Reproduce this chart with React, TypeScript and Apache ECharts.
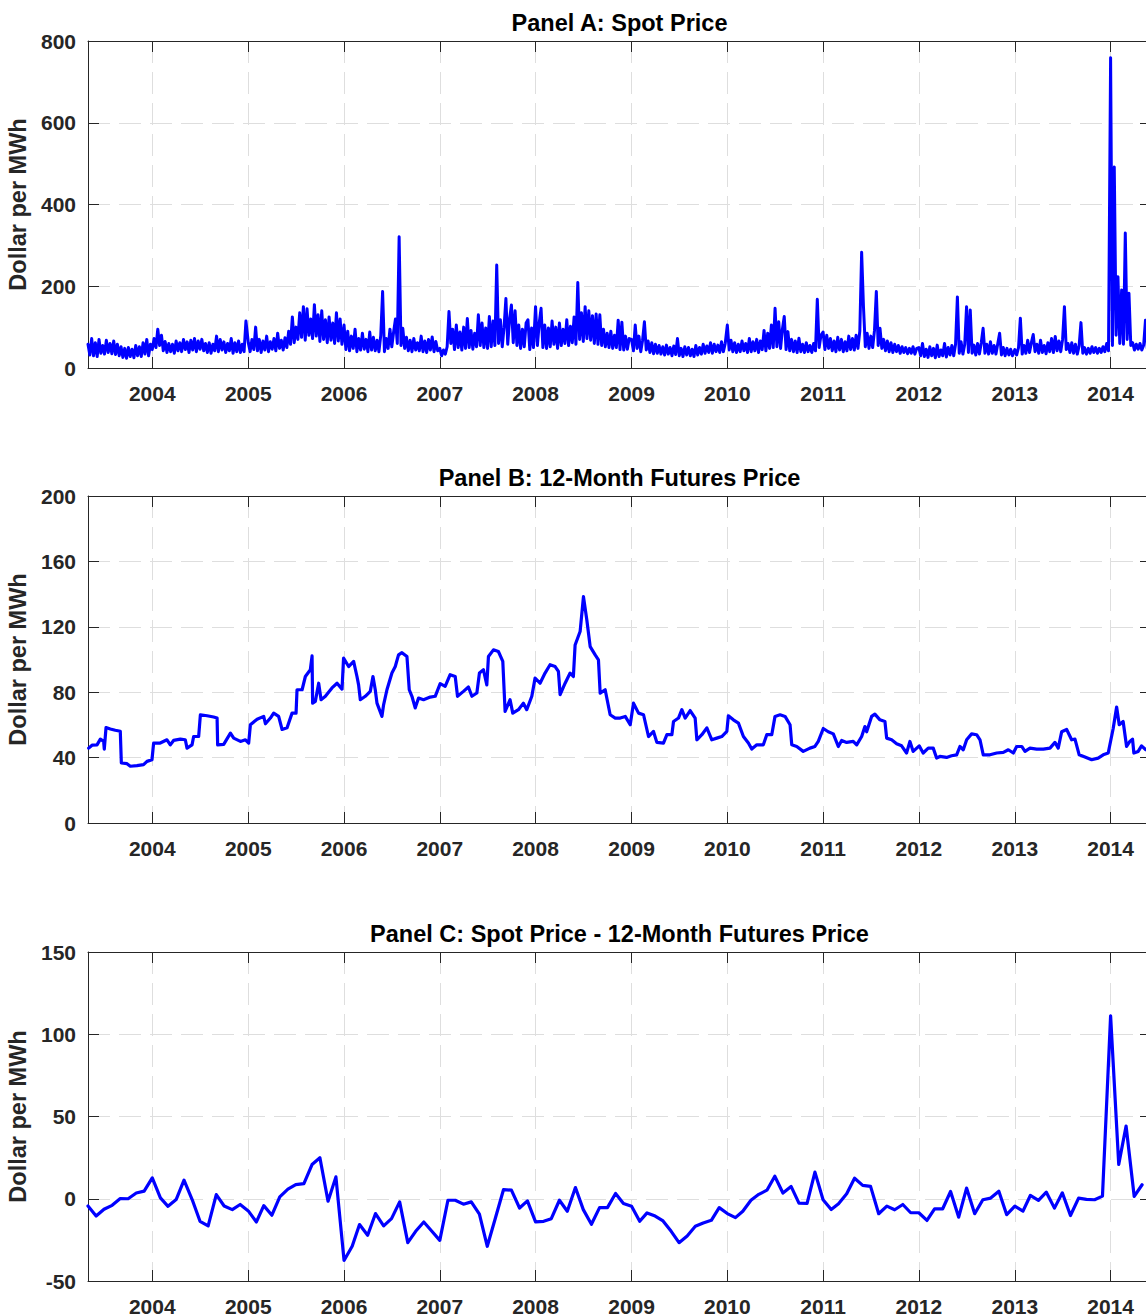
import React, { useEffect, useRef } from 'react';
import * as echarts from 'echarts';

const FONT = '"Liberation Sans", Arial, Helvetica, sans-serif';
const DAY = 86400000;
const AXIS_COLOR = '#262626';
const GRID_COLOR = '#dedede';
const LINE_COLOR = '#0000ff';

// Weekly spot prices ($/MWh); 2003 starts on 1 May, other years on 1 January.
const SPOT_2003 = [58, 32, 72, 30, 62, 28, 70, 36, 55, 34, 68, 38, 60, 35, 66, 33, 58, 30, 52, 26, 48, 24, 50, 28, 46, 25, 55, 30, 52, 28, 62, 34, 70, 30, 58];
const SPOT_2004 = [45, 72, 50, 95, 55, 80, 42, 65, 38, 60, 40, 58, 36, 66, 42, 62, 40, 70, 45, 64, 38, 68, 44, 72, 40, 66, 46, 70, 42, 60, 38, 62, 36, 58, 42, 78, 40, 70, 44, 64, 38, 60, 42, 72, 36, 62, 40, 66, 38, 58, 40, 115];
const SPOT_2005 = [62, 40, 70, 45, 100, 42, 70, 38, 66, 44, 78, 40, 64, 46, 72, 42, 85, 48, 68, 44, 74, 50, 90, 58, 125, 62, 100, 70, 135, 75, 150, 68, 145, 80, 120, 72, 155, 78, 130, 65, 140, 70, 118, 62, 125, 68, 110, 60, 135, 66, 120, 58];
const SPOT_2006 = [105, 45, 90, 42, 78, 48, 95, 40, 72, 44, 85, 46, 70, 40, 88, 44, 75, 42, 68, 40, 80, 187, 40, 72, 48, 95, 52, 88, 120, 60, 321, 55, 97, 48, 75, 42, 68, 40, 72, 44, 62, 42, 78, 40, 66, 38, 70, 44, 76, 40, 65, 42];
const SPOT_2007 = [48, 30, 44, 34, 52, 138, 60, 95, 45, 105, 50, 88, 44, 100, 48, 121, 50, 92, 46, 85, 52, 130, 55, 110, 50, 98, 48, 126, 52, 115, 55, 252, 60, 118, 52, 100, 170, 58, 120, 154, 62, 140, 55, 105, 48, 95, 52, 110, 118, 45, 98, 50];
const SPOT_2008 = [150, 55, 110, 146, 50, 105, 48, 98, 52, 115, 58, 100, 48, 110, 55, 95, 60, 118, 55, 102, 62, 125, 58, 209, 70, 135, 65, 150, 72, 140, 68, 128, 60, 132, 58, 130, 55, 95, 52, 85, 50, 90, 48, 80, 50, 117, 45, 112, 44, 78, 46, 72];
const SPOT_2009 = [70, 42, 105, 48, 78, 40, 68, 113, 44, 66, 38, 62, 35, 58, 36, 55, 34, 52, 32, 56, 34, 50, 30, 54, 33, 72, 30, 48, 28, 52, 32, 50, 30, 46, 28, 55, 32, 50, 34, 58, 36, 54, 38, 62, 36, 58, 40, 56, 38, 64, 40, 60];
const SPOT_2010 = [105, 44, 68, 40, 62, 38, 58, 40, 66, 42, 60, 38, 72, 40, 64, 42, 70, 38, 66, 45, 92, 42, 85, 48, 105, 50, 146, 52, 113, 48, 95, 126, 45, 89, 42, 70, 40, 66, 38, 73, 40, 58, 38, 62, 40, 55, 38, 60, 42, 168, 50, 80];
const SPOT_2011 = [88, 45, 80, 48, 72, 42, 66, 40, 75, 44, 70, 40, 64, 42, 78, 45, 72, 44, 80, 48, 90, 283, 150, 52, 85, 48, 78, 50, 92, 187, 55, 97, 48, 70, 42, 66, 40, 62, 38, 58, 40, 55, 36, 52, 38, 50, 35, 48, 36, 52, 34, 48];
const SPOT_2012 = [50, 30, 60, 28, 46, 26, 52, 30, 48, 25, 56, 28, 44, 30, 60, 27, 50, 32, 55, 30, 58, 174, 36, 64, 34, 58, 150, 38, 142, 36, 56, 32, 60, 34, 62, 97, 36, 58, 34, 64, 36, 55, 34, 60, 85, 32, 50, 30, 48, 32, 46, 30];
const SPOT_2013 = [45, 32, 50, 122, 34, 55, 36, 68, 38, 62, 82, 40, 58, 36, 68, 38, 55, 35, 62, 40, 72, 38, 77, 42, 66, 40, 70, 150, 45, 60, 38, 62, 36, 58, 34, 54, 111, 36, 50, 34, 48, 36, 52, 38, 50, 36, 48, 38, 52, 40, 60, 42];
const SPOT_2014 = [759, 55, 492, 80, 223, 60, 191, 58, 330, 70, 183, 55, 62, 44, 58, 46, 60, 44, 56, 117, 48, 58];

const SPOT_YEARS: [number, number, number[]][] = [
  [2003, 4, SPOT_2003],
  [2004, 0, SPOT_2004],
  [2005, 0, SPOT_2005],
  [2006, 0, SPOT_2006],
  [2007, 0, SPOT_2007],
  [2008, 0, SPOT_2008],
  [2009, 0, SPOT_2009],
  [2010, 0, SPOT_2010],
  [2011, 0, SPOT_2011],
  [2012, 0, SPOT_2012],
  [2013, 0, SPOT_2013],
  [2014, 0, SPOT_2014],
];

// 12-month futures price: [decimal year, $/MWh]
const FUTURES: [number, number][] = [
  [2003.336, 45.8], [2003.371, 47.6], [2003.423, 47.8], [2003.458, 51.3], [2003.492, 49.9], [2003.499, 45.2],
  [2003.517, 58.4], [2003.562, 57.5], [2003.614, 56.7], [2003.666, 56.1], [2003.677, 36.7], [2003.736, 36.3],
  [2003.771, 34.7], [2003.840, 35.1], [2003.909, 35.7], [2003.945, 37.7], [2003.997, 38.7], [2004.014, 48.9],
  [2004.083, 48.9], [2004.153, 50.9], [2004.188, 47.8], [2004.222, 50.5], [2004.292, 51.3], [2004.344, 50.9],
  [2004.362, 45.8], [2004.414, 47.8], [2004.431, 52.9], [2004.483, 52.9], [2004.501, 66.2], [2004.571, 65.6],
  [2004.639, 64.8], [2004.675, 64.2], [2004.681, 47.8], [2004.744, 48.1], [2004.814, 55.0], [2004.848, 51.9],
  [2004.918, 49.9], [2004.970, 50.9], [2005.004, 48.9], [2005.022, 60.1], [2005.092, 63.5], [2005.161, 65.2],
  [2005.179, 60.7], [2005.231, 64.2], [2005.265, 67.2], [2005.317, 65.2], [2005.353, 57.2], [2005.405, 58.2],
  [2005.457, 67.2], [2005.499, 67.2], [2005.509, 81.5], [2005.562, 81.5], [2005.596, 89.6], [2005.648, 93.7],
  [2005.666, 102.2], [2005.672, 73.3], [2005.700, 74.4], [2005.735, 85.5], [2005.760, 75.4], [2005.805, 77.5],
  [2005.874, 82.6], [2005.927, 85.5], [2005.979, 81.9], [2005.995, 100.8], [2006.048, 95.7], [2006.100, 98.8],
  [2006.135, 89.6], [2006.152, 84.5], [2006.170, 75.4], [2006.222, 77.5], [2006.274, 80.5], [2006.302, 89.6],
  [2006.326, 81.5], [2006.344, 73.3], [2006.396, 65.2], [2006.413, 72.3], [2006.448, 81.5], [2006.500, 91.7],
  [2006.535, 95.7], [2006.569, 102.8], [2006.605, 104.2], [2006.657, 101.8], [2006.681, 81.5], [2006.709, 77.5],
  [2006.743, 70.4], [2006.778, 76.4], [2006.830, 75.4], [2006.900, 77.0], [2006.952, 77.5], [2007.004, 85.2],
  [2007.056, 83.6], [2007.108, 90.7], [2007.161, 89.6], [2007.185, 77.5], [2007.247, 80.5], [2007.299, 83.2],
  [2007.335, 77.5], [2007.387, 79.5], [2007.414, 91.7], [2007.456, 93.7], [2007.491, 84.5], [2007.508, 101.8],
  [2007.560, 105.9], [2007.612, 104.9], [2007.658, 98.8], [2007.682, 68.2], [2007.734, 75.4], [2007.762, 67.2],
  [2007.821, 69.3], [2007.873, 73.3], [2007.908, 69.3], [2007.961, 77.5], [2007.995, 88.6], [2008.047, 85.5],
  [2008.099, 91.7], [2008.151, 96.8], [2008.204, 95.7], [2008.238, 92.7], [2008.256, 78.5], [2008.308, 85.5],
  [2008.360, 91.7], [2008.394, 89.6], [2008.412, 108.9], [2008.464, 117.1], [2008.499, 138.4], [2008.534, 124.1],
  [2008.569, 107.9], [2008.621, 102.8], [2008.655, 99.8], [2008.673, 79.4], [2008.725, 81.5], [2008.777, 66.2],
  [2008.830, 64.2], [2008.882, 64.2], [2008.934, 65.2], [2008.986, 60.1], [2009.020, 73.3], [2009.073, 67.2],
  [2009.125, 66.2], [2009.177, 52.9], [2009.229, 56.0], [2009.264, 49.3], [2009.333, 48.9], [2009.369, 54.0],
  [2009.421, 54.0], [2009.438, 62.1], [2009.490, 64.2], [2009.525, 69.3], [2009.560, 64.2], [2009.612, 68.8],
  [2009.664, 64.2], [2009.682, 50.9], [2009.734, 54.0], [2009.786, 58.2], [2009.838, 50.9], [2009.890, 51.9],
  [2009.942, 52.9], [2009.995, 56.0], [2010.011, 65.6], [2010.063, 63.1], [2010.116, 61.1], [2010.168, 52.9],
  [2010.220, 48.9], [2010.255, 45.2], [2010.308, 47.8], [2010.376, 47.8], [2010.412, 54.0], [2010.464, 54.0],
  [2010.498, 65.2], [2010.551, 66.2], [2010.603, 65.2], [2010.655, 60.1], [2010.673, 47.8], [2010.725, 46.8],
  [2010.793, 43.8], [2010.863, 45.8], [2010.915, 46.8], [2010.950, 49.9], [2011.002, 57.8], [2011.054, 55.8],
  [2011.107, 54.5], [2011.159, 46.8], [2011.194, 50.5], [2011.246, 49.3], [2011.315, 49.9], [2011.351, 47.8],
  [2011.403, 52.9], [2011.437, 59.0], [2011.455, 55.8], [2011.507, 65.2], [2011.541, 66.6], [2011.594, 63.1],
  [2011.646, 62.1], [2011.664, 51.9], [2011.716, 50.9], [2011.768, 48.5], [2011.820, 47.2], [2011.872, 42.8],
  [2011.907, 49.9], [2011.941, 43.8], [2012.004, 47.2], [2012.045, 42.8], [2012.098, 45.8], [2012.150, 45.8],
  [2012.185, 39.7], [2012.219, 40.7], [2012.289, 40.1], [2012.341, 41.1], [2012.394, 41.7], [2012.428, 46.8],
  [2012.463, 44.8], [2012.498, 50.9], [2012.550, 54.5], [2012.602, 54.0], [2012.637, 50.9], [2012.671, 41.7],
  [2012.741, 41.7], [2012.811, 42.8], [2012.880, 43.2], [2012.932, 44.8], [2012.984, 42.8], [2013.019, 46.8],
  [2013.072, 46.8], [2013.106, 43.8], [2013.158, 45.8], [2013.228, 45.2], [2013.297, 45.2], [2013.367, 45.8],
  [2013.419, 49.3], [2013.453, 45.8], [2013.489, 55.8], [2013.541, 57.2], [2013.593, 50.9], [2013.628, 51.3],
  [2013.672, 41.7], [2013.732, 40.3], [2013.802, 38.7], [2013.870, 39.7], [2013.923, 41.7], [2013.975, 42.8],
  [2014.027, 57.8], [2014.063, 70.9], [2014.090, 60.1], [2014.131, 62.1], [2014.167, 46.8], [2014.201, 49.9],
  [2014.229, 51.3], [2014.243, 42.8], [2014.288, 43.8], [2014.323, 47.2], [2014.368, 44.8], [2014.410, 44.5],
];

// Monthly spot minus 12-month futures, from May 2003
const SPREAD = [
  -4.4, -10.5, -6.4, -4.0, 0.1, 0.0, 3.5, 4.6,
  12.7, 0.5, -4.6, -0.5, 11.3, -0.5, -13.7, -16.5, 2.5, -4.4, -6.6, -3.5,
  -7.4, -14.1, -4.2, -10.0, 1.1, 5.8, 8.6, 9.2, 20.8, 24.9, -1.5, 13.3,
  -37.5, -28.9, -15.7, -22.2, -9.0, -16.5, -12.1, -1.9, -26.7, -19.8, -14.1, -19.6,
  -25.3, -0.9, -0.9, -3.3, -1.9, -9.4, -28.9, -11.7, 5.6, 5.2, -5.6, -1.3,
  -14.1, -13.7, -12.1, -0.9, -7.6, 6.8, -6.6, -15.5, -5.4, -5.4, 3.2, -2.9,
  -4.6, -13.7, -8.6, -10.5, -13.5, -19.8, -26.7, -22.6, -16.7, -14.7, -13.1, -5.4,
  -9.0, -11.5, -7.6, -0.9, 2.7, 5.2, 13.7, 3.5, 7.5, -2.7, -2.8, 16.2,
  -0.6, -6.5, -3.0, 3.0, 12.5, 8.1, 7.5, -9.1, -4.5, -6.7, -3.5, -8.5,
  -8.5, -13.2, -6.1, -6.1, 4.4, -11.2, 6.5, -9.1, -0.6, 0.4, 4.6, -9.7,
  -4.5, -7.5, 2.0, -1.0, 4.0, -5.7, 3.6, -10.2, 0.4, -0.4, -0.6, 1.6,
  111.2, 20.9, 44.2, 1.4, 8.5,
];

const PANEL_TITLES = [
  'Panel A: Spot Price',
  'Panel B: 12-Month Futures Price',
  'Panel C: Spot Price - 12-Month Futures Price',
];
const Y_MIN = [0, 0, -50];
const Y_MAX = [800, 200, 150];
const Y_STEP = [200, 40, 50];
const Y_NAME = 'Dollar per MWh';

const PLOT_LEFT = 88;
const PLOT_WIDTH = 1063;
const PLOT_TOPS = [41, 496, 952];
const PLOT_HEIGHTS = [327, 327, 329];
const LINE_WIDTHS = [3, 3.2, 3.2];

const X_MIN = Date.UTC(2003, 4, 1);
const X_MAX = Date.UTC(2014, 5, 4);
const YEAR_MS = 365 * DAY;

function yearToTime(y: number): number {
  const yr = Math.floor(y);
  const s = Date.UTC(yr, 0, 1);
  const e = Date.UTC(yr + 1, 0, 1);
  return s + (y - yr) * (e - s);
}

function spotPoints(): [number, number][] {
  const pts: [number, number][] = [];
  SPOT_YEARS.forEach(([yr, month, vals]) => {
    const start = Date.UTC(yr, month, 1);
    vals.forEach((v, i) => pts.push([start + i * 7 * DAY, v]));
  });
  return pts;
}

function futuresPoints(): [number, number][] {
  return FUTURES.map(([y, v]) => [yearToTime(y), v]);
}

function spreadPoints(): [number, number][] {
  return SPREAD.map((v, i) => [Date.UTC(2003, 4 + i, 1), v]);
}

function yearLabel(value: number): string {
  const d = new Date(value);
  return d.getUTCMonth() === 0 && d.getUTCDate() === 1 ? String(d.getUTCFullYear()) : '';
}

function buildOption() {
  const grids: any[] = [];
  const xAxes: any[] = [];
  const yAxes: any[] = [];
  const titles: any[] = [];
  const seriesData = [spotPoints(), futuresPoints(), spreadPoints()];
  const series: any[] = [];

  for (let i = 0; i < 3; i++) {
    grids.push({
      left: PLOT_LEFT,
      top: PLOT_TOPS[i],
      width: PLOT_WIDTH,
      height: PLOT_HEIGHTS[i],
      containLabel: false,
      outerBoundsMode: 'none',
    });
    titles.push({
      text: PANEL_TITLES[i],
      left: PLOT_LEFT + PLOT_WIDTH / 2,
      top: PLOT_TOPS[i] - 18.5,
      textAlign: 'center',
      textVerticalAlign: 'middle',
      padding: 0,
      textStyle: { fontFamily: FONT, fontSize: 23.5, fontWeight: 'bold', color: '#000' },
    });
    const xCommon = {
      type: 'time',
      gridIndex: i,
      min: X_MIN,
      max: X_MAX,
      minInterval: YEAR_MS,
      maxInterval: YEAR_MS,
      axisLine: { show: true, onZero: false, lineStyle: { color: AXIS_COLOR, width: 1 } },
      axisTick: { show: true, inside: true, length: 11, lineStyle: { color: AXIS_COLOR, width: 1 } },
    };
    xAxes.push({
      ...xCommon,
      position: 'bottom',
      axisLabel: {
        show: true,
        formatter: yearLabel,
        fontFamily: FONT,
        fontSize: 21,
        fontWeight: 'bold',
        color: AXIS_COLOR,
        margin: 15,
        showMinLabel: false,
        showMaxLabel: false,
        hideOverlap: false,
      },
      splitLine: { show: true, lineStyle: { color: GRID_COLOR, width: 1, type: [22, 9] } },
    });
    xAxes.push({
      ...xCommon,
      position: 'top',
      axisLabel: { show: false },
      splitLine: { show: false },
    });
    const yCommon = {
      type: 'value',
      gridIndex: i,
      min: Y_MIN[i],
      max: Y_MAX[i],
      interval: Y_STEP[i],
      axisLine: { show: true, onZero: false, lineStyle: { color: AXIS_COLOR, width: 1 } },
      axisTick: { show: true, inside: true, length: 11, lineStyle: { color: AXIS_COLOR, width: 1 } },
    };
    yAxes.push({
      ...yCommon,
      position: 'left',
      name: Y_NAME,
      nameLocation: 'middle',
      nameRotate: 90,
      nameGap: 58,
      nameTextStyle: { fontFamily: FONT, fontSize: 23.5, fontWeight: 'bold', color: AXIS_COLOR },
      axisLabel: { fontFamily: FONT, fontSize: 21, fontWeight: 'bold', color: AXIS_COLOR, margin: 12 },
      splitLine: { show: true, lineStyle: { color: GRID_COLOR, width: 1, type: [22, 9] } },
    });
    yAxes.push({
      ...yCommon,
      position: 'right',
      axisLabel: { show: false },
      splitLine: { show: false },
    });
    series.push({
      type: 'line',
      xAxisIndex: 2 * i,
      yAxisIndex: 2 * i,
      data: seriesData[i],
      symbol: 'none',
      showSymbol: false,
      silent: true,
      lineStyle: { color: LINE_COLOR, width: LINE_WIDTHS[i], join: 'round', cap: 'round' },
    });
  }

  return {
    animation: false,
    useUTC: true,
    backgroundColor: '#ffffff',
    title: titles,
    grid: grids,
    xAxis: xAxes,
    yAxis: yAxes,
    series,
  };
}

export default function App() {
  const ref = useRef<HTMLDivElement>(null);
  useEffect(() => {
    if (!ref.current) return;
    const chart = echarts.init(ref.current, undefined, { renderer: 'svg' });
    chart.setOption(buildOption() as any);
    return () => chart.dispose();
  }, []);
  return (
    <div
      ref={ref}
      style={{ position: 'absolute', left: 0, top: 0, width: 1146, height: 1316, background: '#fff' }}
    />
  );
}
